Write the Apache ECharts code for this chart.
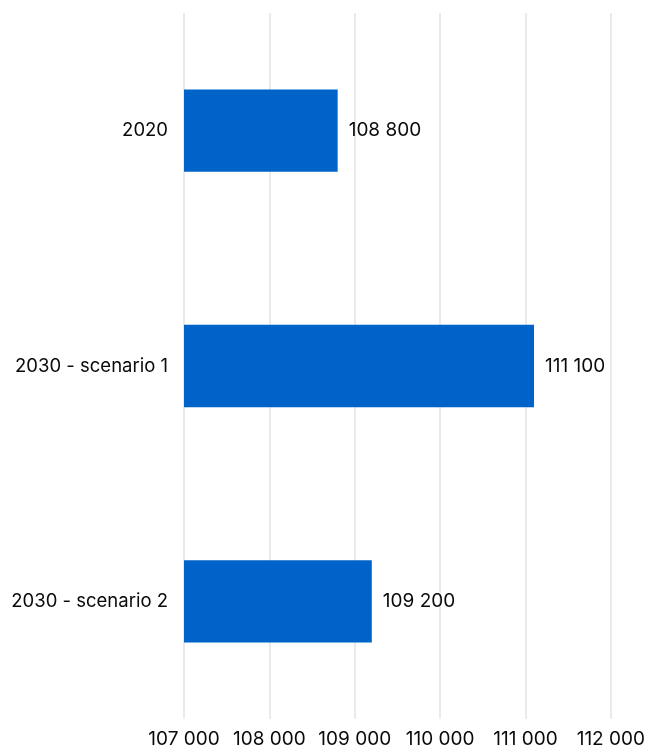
<!DOCTYPE html>
<html>
<head>
<meta charset="utf-8">
<script src="https://cdn.jsdelivr.net/npm/echarts@6/dist/echarts.min.js"></script>
<style>
  html, body { margin: 0; padding: 0; background: #ffffff; }
  #chart { width: 648px; height: 749px; }
</style>
</head>
<body>
<div id="chart"></div>
<script>
// Categories and values for the horizontal bar chart
const categories = ['2020', '2030 - scenario 1', '2030 - scenario 2'];
const values = [108800, 111100, 109200];

// Axis range and step
const axisMin = 107000;
const axisMax = 112000;
const axisStep = 1000;

const FONT = 'Inter, "Noto Sans", sans-serif';

// Thousands separated by a space: 108800 -> "108 800"
function fmt(v) {
  return String(Math.round(v)).replace(/\B(?=(\d{3})+(?!\d))/g, ' ');
}

const chart = echarts.init(document.getElementById('chart'), null, { renderer: 'canvas' });

chart.setOption({
  animation: false,
  backgroundColor: '#ffffff',
  grid: { left: 184, right: 36, top: 13, bottom: 30, containLabel: false },
  xAxis: {
    type: 'value',
    min: axisMin,
    max: axisMax,
    interval: axisStep,
    axisLine: { show: false },
    axisTick: { show: false },
    splitLine: { show: true, lineStyle: { color: '#e3e3e3', width: 1.5 } },
    axisLabel: {
      color: '#0a0a0a',
      fontFamily: FONT,
      fontSize: 19,
      margin: 11,
      formatter: fmt
    }
  },
  yAxis: {
    type: 'category',
    data: categories,
    inverse: true,
    axisLine: { show: false },
    axisTick: { show: false },
    splitLine: { show: false },
    axisLabel: {
      color: '#0a0a0a',
      fontFamily: FONT,
      fontSize: 18.5,
      margin: 16
    }
  },
  series: [{
    type: 'bar',
    data: values,
    barWidth: '35%',
    itemStyle: { color: '#0063c9' },
    label: {
      show: true,
      position: 'right',
      distance: 11,
      color: '#0a0a0a',
      fontFamily: FONT,
      fontSize: 19,
      formatter: p => fmt(p.value)
    }
  }]
});
</script>
</body>
</html>
